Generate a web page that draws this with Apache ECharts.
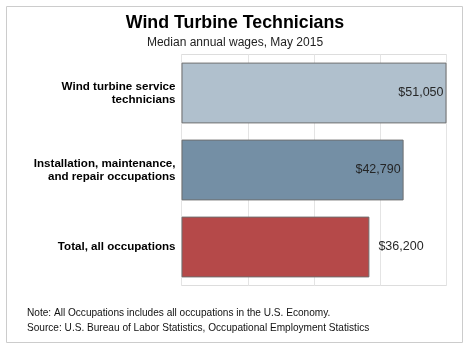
<!DOCTYPE html>
<html><head><meta charset="utf-8">
<script src="https://cdn.jsdelivr.net/npm/echarts@6/dist/echarts.min.js"></script>
<style>html,body{margin:0;padding:0;background:#fff}#c{width:470px;height:349px}</style>
</head><body><div id="c"></div>
<script>
const categories = ["Wind turbine service\ntechnicians", "Installation, maintenance,\nand repair occupations", "Total, all occupations"];
const wages = [51050, 42790, 36200];
const barColors = ["#adbecb", "#6f8ba2", "#b34343"];
const labelInside = [true, true, false];

const chart = echarts.init(document.getElementById('c'));
chart.setOption({
  animation: false,
  graphic: [
    {type:'rect', shape:{x:6.5,y:6.5,width:456,height:336}, style:{fill:'none',stroke:'#cccccc',lineWidth:1}, z:-1},
    {type:'text', left:'center', top:14, style:{text:'Wind Turbine Technicians', font:'bold 17.8px "Liberation Sans", Arial', fill:'#000'}},
    {type:'text', left:'center', top:37, style:{text:'Median annual wages, May 2015', font:'12px "Liberation Sans"', fill:'#222'}},
    {type:'text', left:27, top:308, style:{text:'Note: All Occupations includes all occupations in the U.S. Economy.', font:'10.1px "Liberation Sans"', fill:'#111'}},
    {type:'text', left:27, top:323, style:{text:'Source: U.S. Bureau of Labor Statistics, Occupational Employment Statistics', font:'10.1px "Liberation Sans"', fill:'#111'}}
  ],
  grid: {left:181.5, top:54.5, width:265, height:231, containLabel:false, show:true, borderColor:'#dddddd', borderWidth:1},
  xAxis: {type:'value', min:0, max:51050, interval:12762.5, axisLabel:{show:false}, axisTick:{show:false}, axisLine:{show:false},
    splitLine:{show:true, lineStyle:{color:'#e4e4e4', width:1}}},
  yAxis: {type:'category', inverse:true, data:categories, axisTick:{show:false}, axisLine:{show:false},
    axisLabel:{fontFamily:'"Liberation Sans", Arial', fontWeight:'bold', fontSize:11.6, color:'#000', lineHeight:13, align:'right', margin:6}},
  series: [{
    type:'bar', barCategoryGap:'21%',
    data: wages.map((v,i)=>({value:v, itemStyle:{color:barColors[i], opacity:0.97},
      label:{position: labelInside[i] ? 'insideRight' : 'right', distance: labelInside[i] ? 3 : 9}})),
    itemStyle:{borderColor:'#6e6e6e', borderWidth:1},
    label:{show:true, fontFamily:'"Liberation Sans"', fontSize:12.5, color:'#222',
      formatter: p => '$' + p.value.toLocaleString('en-US')}
  }]
});
</script></body></html>
